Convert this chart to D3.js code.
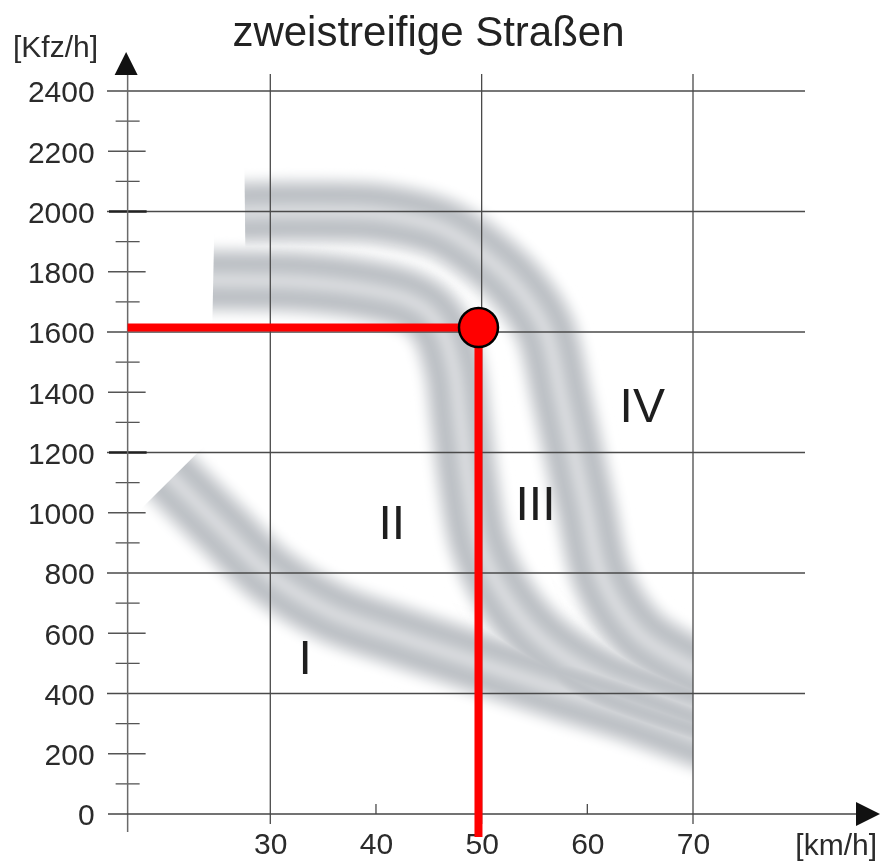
<!DOCTYPE html>
<html><head><meta charset="utf-8">
<script src="https://cdn.jsdelivr.net/npm/d3@7"></script>
<style>html,body{margin:0;padding:0;background:#fff;} svg{display:block;}</style>
</head><body>
<svg id="chart" width="883" height="863"></svg>
<script>
// ---------- data ----------
const titleText = "zweistreifige Straßen";
const yUnitText = "[Kfz/h]";
const xUnitText = "[km/h]";
const xTickValues = [30, 40, 50, 60, 70];
const xGridValues = [30, 50, 70];
const yTickValues = [0, 200, 400, 600, 800, 1000, 1200, 1400, 1600, 1800, 2000, 2200, 2400];
const yGridValues = [400, 800, 1200, 1600, 2000, 2400];
const yMinorValues = [100, 300, 500, 700, 900, 1100, 1300, 1500, 1700, 1900, 2100, 2300];
const yBoldTickValues = [1200, 2000];

const regionLabels = ["I", "II", "III", "IV"];
const regionSpeed = [33.3, 41.5, 55.1, 65.2];
const regionFlow  = [465, 913, 976, 1301];

// boundary bands (speed km/h, flow Kfz/h)
const bandASpeed = [27.6, 32.8, 40.4, 46.1, 50.1, 53.6, 56.0, 57.6, 59.8, 61.5, 65.0, 70.0, 71.6];
const bandAFlow  = [1998, 2000, 1992, 1945, 1856, 1739, 1607, 1374, 1026, 777, 594, 485, 461];
const bandBSpeed = [24.6, 32.8, 39.4, 42.8, 44.8, 46.3, 47.4, 48.0, 48.7, 49.8, 51.9, 55.5, 61.2, 70.0, 71.6];
const bandBFlow  = [1772, 1766, 1739, 1710, 1670, 1600, 1474, 1308, 1109, 900, 740, 584, 451, 339, 322];
const bandCSpeed = [20.7, 25.4, 30.0, 35.65, 42.3, 49.8, 57.4, 64.0, 70.0, 71.6];
const bandCFlow  = [1115, 949, 793, 671, 588, 501, 412, 339, 262, 242];

const markerSpeed = 49.7;
const markerFlow = 1615;

// ---------- layout ----------
const svg = d3.select("#chart");
const x = d3.scaleLinear().domain([30, 70]).range([270.3, 693]);
const y = d3.scaleLinear().domain([0, 2400]).range([814, 91]);
const axisX = x(16.5);          // position of the vertical axis
const gridLeft = 107, gridRight = 805;
const font = "'Liberation Sans', Arial, Helvetica, sans-serif";

// ---------- bands ----------
const defs = svg.append("defs");
defs.append("filter").attr("id", "soft").attr("filterUnits", "userSpaceOnUse")
  .attr("x", 0).attr("y", 0).attr("width", 883).attr("height", 863)
  .append("feGaussianBlur").attr("stdDeviation", 4.5);

const profileT = [0, 0.22, 0.5, 0.75, 1.0];
const profileD = [0.45, 0.8, 1.0, 0.55, 0.0];
const darkness = d3.scaleLinear().domain(profileT).range(profileD).clamp(true);
const shade = d3.interpolateRgb("#ffffff", "#b8bcc1");
const halfW = 38, layers = 20;

const pixLine = d3.line().curve(d3.curveCatmullRom.alpha(0.5));
const bands = [
  d3.zip(bandCSpeed, bandCFlow),
  d3.zip(bandBSpeed, bandBFlow),
  d3.zip(bandASpeed, bandAFlow)
];
const bandRoot = svg.append("g").style("isolation", "isolate");
bands.forEach((pts, bi) => {
  const px = pts.map(d => [x(d[0]), y(d[1])]);
  const dx = px[1][0] - px[0][0], dy = px[1][1] - px[0][1];
  const len = Math.hypot(dx, dy), ux = dx / len, uy = dy / len;
  const ext = [px[0][0] - ux * 25, px[0][1] - uy * 25];
  const pathD = pixLine([ext].concat(px));
  const L = 2000, nx = -uy, ny = ux;
  const p0 = px[0];
  const poly = [
    [p0[0] + nx * L, p0[1] + ny * L],
    [p0[0] + nx * L + ux * L, p0[1] + ny * L + uy * L],
    [p0[0] - nx * L + ux * L, p0[1] - ny * L + uy * L],
    [p0[0] - nx * L, p0[1] - ny * L]
  ];
  const cp = defs.append("clipPath").attr("id", "cut" + bi);
  cp.append("path").attr("d", "M" + poly.map(p => p.join(",")).join("L") + "Z");
  const cp2 = defs.append("clipPath").attr("id", "r70_" + bi);
  cp2.append("rect").attr("x", 0).attr("y", 0).attr("width", x(70)).attr("height", 863);

  const outer = bandRoot.append("g").attr("clip-path", "url(#r70_" + bi + ")").style("mix-blend-mode", "darken");
  const mid = outer.append("g").attr("clip-path", "url(#cut" + bi + ")");
  const g = mid.append("g").attr("filter", "url(#soft)");
  for (let i = 0; i < layers; i++) {
    const w = 2 * halfW * (1 - i / layers);
    const t = 1 - (i + 0.5) / layers;
    g.append("path").attr("d", pathD).attr("fill", "none")
      .attr("stroke", shade(darkness(t))).attr("stroke-width", w)
      .attr("stroke-linecap", "butt").attr("stroke-linejoin", "round");
  }
});

// ---------- grid ----------
const gridColor = "#4a4a4a";
svg.append("g").selectAll("line").data(yGridValues).join("line")
  .attr("x1", gridLeft).attr("x2", gridRight)
  .attr("y1", d => y(d)).attr("y2", d => y(d))
  .attr("stroke", gridColor).attr("stroke-width", 1.3);
svg.append("g").selectAll("line").data(xGridValues).join("line")
  .attr("x1", d => x(d)).attr("x2", d => x(d))
  .attr("y1", 74).attr("y2", 824)
  .attr("stroke", gridColor).attr("stroke-width", 1.3);
svg.append("g").selectAll("line").data(xTickValues.filter(v => !xGridValues.includes(v))).join("line")
  .attr("x1", d => x(d)).attr("x2", d => x(d))
  .attr("y1", y(0) - 10).attr("y2", y(0))
  .attr("stroke", gridColor).attr("stroke-width", 1.3);

// y axis ticks
svg.append("g").selectAll("line").data(yTickValues.filter(v => !yGridValues.includes(v) && v !== 0)).join("line")
  .attr("x1", gridLeft + 1).attr("x2", axisX + 18)
  .attr("y1", d => y(d)).attr("y2", d => y(d))
  .attr("stroke", "#555").attr("stroke-width", 1.3);
svg.append("g").selectAll("line").data(yMinorValues).join("line")
  .attr("x1", axisX - 12).attr("x2", axisX + 12)
  .attr("y1", d => y(d)).attr("y2", d => y(d))
  .attr("stroke", "#555").attr("stroke-width", 1.3);
svg.append("g").selectAll("line").data(yBoldTickValues).join("line")
  .attr("x1", gridLeft + 2).attr("x2", axisX + 19)
  .attr("y1", d => y(d)).attr("y2", d => y(d))
  .attr("stroke", "#222").attr("stroke-width", 2.4);

// axis lines
svg.append("line").attr("x1", axisX).attr("x2", axisX).attr("y1", 832).attr("y2", 74)
  .attr("stroke", "#6a6a6a").attr("stroke-width", 1.5);
svg.append("line").attr("x1", gridLeft + 1).attr("x2", 858).attr("y1", y(0)).attr("y2", y(0))
  .attr("stroke", "#444").attr("stroke-width", 1.5);
svg.append("path").attr("d", `M${axisX - 1.5},52 L${axisX + 10},75 L${axisX - 13},75 Z`).attr("fill", "#111");
svg.append("path").attr("d", `M880,${y(0)} L856,${y(0) - 12} L856,${y(0) + 12} Z`).attr("fill", "#111");

// ---------- axis labels ----------
const yAxis = d3.axisLeft(y).tickValues(yTickValues).tickSize(0).tickPadding(33).tickFormat(d3.format("d"));
const gy = svg.append("g").attr("transform", `translate(${axisX},0)`).call(yAxis);
gy.select(".domain").remove();
gy.selectAll("text").attr("font-family", font).attr("font-size", 30).attr("fill", "#2b2b2b").attr("dy", "0.36em");

const xAxis = d3.axisBottom(x).tickValues(xTickValues).tickSize(0).tickPadding(19).tickFormat(d3.format("d"));
const gx = svg.append("g").attr("transform", `translate(0,${y(0)})`).call(xAxis);
gx.select(".domain").remove();
gx.selectAll("text").attr("font-family", font).attr("font-size", 30).attr("fill", "#2b2b2b");

svg.append("text").attr("x", 13).attr("y", 57).text(yUnitText)
  .attr("font-family", font).attr("font-size", 30).attr("fill", "#2b2b2b");
svg.append("text").attr("x", 877).attr("y", 855).attr("text-anchor", "end").text(xUnitText)
  .attr("font-family", font).attr("font-size", 30).attr("fill", "#2b2b2b");
svg.append("text").attr("x", 428.5).attr("y", 46).attr("text-anchor", "middle").text(titleText)
  .attr("font-family", font).attr("font-size", 42).attr("fill", "#222");

svg.append("g").selectAll("text").data(d3.range(regionLabels.length)).join("text")
  .attr("x", i => x(regionSpeed[i])).attr("y", i => y(regionFlow[i]))
  .attr("text-anchor", "middle").text(i => regionLabels[i])
  .attr("font-family", font).attr("font-size", 48).attr("fill", "#1e1e1e");

// ---------- marker ----------
svg.append("line").attr("x1", axisX).attr("x2", x(markerSpeed))
  .attr("y1", y(markerFlow)).attr("y2", y(markerFlow))
  .attr("stroke", "#ff0000").attr("stroke-width", 8);
svg.append("line").attr("x1", x(markerSpeed)).attr("x2", x(markerSpeed))
  .attr("y1", y(markerFlow)).attr("y2", 837)
  .attr("stroke", "#ff0000").attr("stroke-width", 8);
svg.append("circle").attr("cx", x(markerSpeed)).attr("cy", y(markerFlow)).attr("r", 19.5)
  .attr("fill", "#ff0000").attr("stroke", "#000").attr("stroke-width", 2.5);
</script>
</body></html>
